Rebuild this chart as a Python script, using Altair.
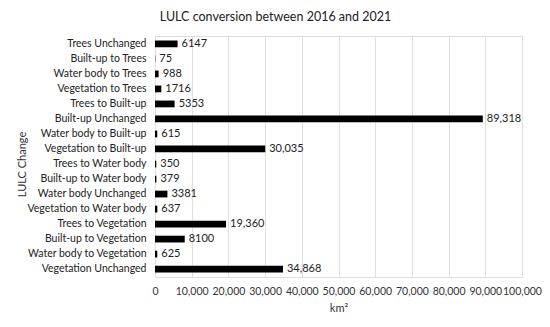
import altair as alt
import pandas as pd

categories = [
    "Trees Unchanged", "Built-up to Trees", "Water body to Trees", "Vegetation to Trees",
    "Trees to Built-up", "Built-up Unchanged", "Water body to Built-up", "Vegetation to Built-up",
    "Trees to Water body", "Built-up to Water body", "Water body Unchanged", "Vegetation to Water body",
    "Trees to Vegetation", "Built-up to Vegetation", "Water body to Vegetation", "Vegetation Unchanged",
]
values = [6147, 75, 988, 1716, 5353, 89318, 615, 30035, 350, 379, 3381, 637, 19360, 8100, 625, 34868]
labels = ["6147", "75", "988", "1716", "5353", "89,318", "615", "30,035", "350", "379", "3381", "637",
          "19,360", "8100", "625", "34,868"]
x_ticks = list(range(0, 100001, 10000))

df = pd.DataFrame({"cat": categories, "val": values, "lab": labels})

FONT = "Lato"

y_enc = alt.Y("cat:N", sort=None, title="LULC Change",
              scale=alt.Scale(paddingInner=0.55, paddingOuter=0.3),
              axis=alt.Axis(ticks=False, domain=False, labelFontSize=10.5, labelColor="#222",
                            labelPadding=9, titleFontSize=11, titleFontWeight="normal",
                            titleColor="#333", titleX=-128, titleY=128, titleAngle=270,
                            titleAlign="center", labelFont=FONT, titleFont=FONT,
                            labelLimit=200))
x_enc = alt.X("val:Q", title="km²",
              scale=alt.Scale(domain=[0, 100000], nice=False),
              axis=alt.Axis(values=x_ticks, format=",.0f", ticks=False, domain=False,
                            labelOverlap=False, labelFlush=False,
                            grid=True, gridColor="#e0e0e0", labelFontSize=10.5, labelColor="#333",
                            labelPadding=9, titleFontSize=11, titleFontWeight="normal",
                            titleColor="#333", titlePadding=6, labelFont=FONT, titleFont=FONT))

base = alt.Chart(df).encode(x=x_enc, y=y_enc)
bars = base.mark_bar(color="#000000")
text = base.mark_text(align="left", baseline="middle", dx=4, fontSize=11,
                      color="#222", font=FONT).encode(text="lab:N")

chart = (bars + text).properties(
    width=367, height=241,
    title=alt.TitleParams("LULC conversion between 2016 and 2021", fontSize=12.5,
                          fontWeight="normal", color="#222", font=FONT, anchor="middle",
                          offset=13, dx=-63),
    autosize=alt.AutoSizeParams(type="none"),
    padding={"left": 147, "top": 28, "right": 20, "bottom": 40},
).configure_view(stroke=None).configure(background="white")

chart.save("out.html", embed_options={"renderer": "svg", "actions": False})
